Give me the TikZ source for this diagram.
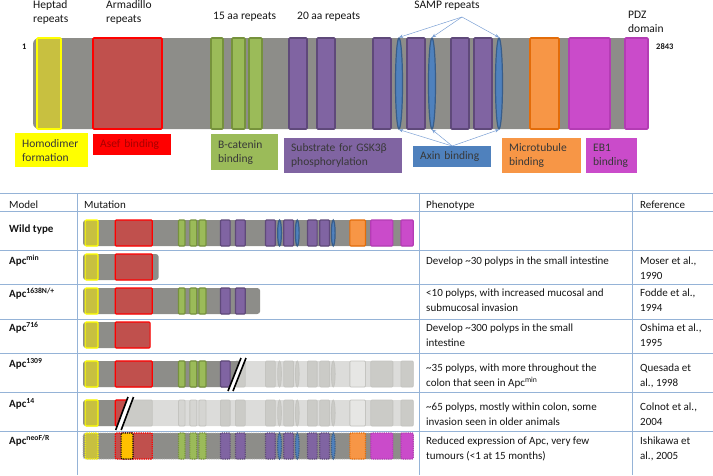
\documentclass[tikz,border=0pt]{standalone}
\usepackage{fontspec}
\setmainfont{Carlito}
\usetikzlibrary{arrows.meta,positioning,shapes.geometric}
\definecolor{barfill}{HTML}{8D8D89}
\definecolor{hepfill}{HTML}{C8C040}
\definecolor{hepline}{HTML}{FFFF00}
\definecolor{armfill}{HTML}{C0504D}
\definecolor{armline}{HTML}{FF0000}
\definecolor{catfill}{HTML}{9BBB59}
\definecolor{catline}{HTML}{76923C}
\definecolor{gskfill}{HTML}{8064A2}
\definecolor{gskline}{HTML}{5F497A}
\definecolor{axnfill}{HTML}{4F81BD}
\definecolor{axnline}{HTML}{385D8A}
\definecolor{mtbfill}{HTML}{F79646}
\definecolor{mtbline}{HTML}{E36C09}
\definecolor{ebfill}{HTML}{CA4BCA}
\definecolor{ebline}{HTML}{B43CB4}
\definecolor{gridblue}{HTML}{95B3D7}
\definecolor{fadebar}{HTML}{DCDCDA}
\definecolor{fadebox}{HTML}{CBCBC7}
\definecolor{fadeline}{HTML}{C4C4C0}
\definecolor{fademtb}{HTML}{E6E6E4}
\definecolor{neogold}{HTML}{FFC000}
\definecolor{ink}{HTML}{141414}
\definecolor{lbltext}{HTML}{383838}
\definecolor{asef}{HTML}{A80000}
\definecolor{ptrblue}{HTML}{7BA0D4}
\tikzset{dom/.style={line width=1.2pt,rounded corners=1pt},bar/.style={fill=barfill,rounded corners=3pt},
hep/.style={dom,fill=hepfill,draw=hepline},arm/.style={dom,fill=armfill,draw=armline},cat/.style={dom,fill=catfill,draw=catline},
gsk/.style={dom,fill=gskfill,draw=gskline},axn/.style={dom,fill=axnfill,draw=axnline},mtb/.style={dom,fill=mtbfill,draw=mtbline},
eb/.style={dom,fill=ebfill,draw=ebline},gold/.style={dom,fill=neogold,draw=black},
fade/.style={dom,fill=fadebox,draw=fadeline,line width=0.8pt},
faded/.style={bar/.style={fill=fadebar,rounded corners=3pt},hep/.style={fade},arm/.style={fade},cat/.style={fade,fill=fadebar!60!fadebox},gsk/.style={fade},axn/.style={fade},mtb/.style={fade,fill=fademtb},eb/.style={fade}},
dashy/.style={dom/.append style={densely dotted},bar/.append style={draw=gray!60,densely dotted,line width=0.8pt}},
row/.style={shift={(65.28,#1-10.86)},xscale=0.537,yscale=0.2857},
sampnode/.style={ellipse,draw=axnline,fill=axnfill,line width=1.2pt,minimum width=7,minimum height=91,inner sep=0pt},
pointer/.style={-{Stealth[length=4pt,width=3.5pt]},draw=ptrblue,line width=0.5pt},
grid/.style={draw=gridblue,line width=0.8pt},gap/.style={fill=white},cut/.style={draw=black,line width=1.6pt}}
\newcommand\apcfull{%
\path[bar] (33,38) rectangle (648,129);
\path[hep] (37,38) rectangle (61,129);
\path[arm] (93,38) rectangle (162,129);
\foreach \a/\b in {211/223,232/245,249/262} {\path[cat] (\a,38) rectangle (\b,129);}
\foreach \a/\b in {289/307,317/335,373/391,407/425,451/469,474/492} {\path[gsk] (\a,38) rectangle (\b,129);}
\foreach \c in {399,432,499} {\path[axn] (\c,83.5) ellipse [x radius=3.5,y radius=45.5];}
\path[mtb] (530,38) rectangle (559,129);
\foreach \a/\b in {569/610,625/648} {\path[eb] (\a,38) rectangle (\b,129);}}

\begin{document}
\begin{tikzpicture}[x=1pt,y=-1pt,font=\fontsize{11.5}{14}\selectfont,
head/.style={anchor=west,align=left,inner sep=0pt,text=ink},
lbl/.style={anchor=north west,align=left,inner xsep=7pt,inner ysep=0pt,text=lbltext},
cell/.style={anchor=base west,align=left,inner sep=0pt,text=ink,font=\fontsize{11}{15}\selectfont},
model/.style={cell,font=\fontsize{11}{15}\selectfont\bfseries}]
\useasboundingbox (0,0) rectangle (713,475);
% protein map
\begin{scope}[dom/.append style={line width=1.6pt}]
\path[bar,rounded corners=6pt] (33,38) rectangle (648,129);
\path[hep] (37,38) rectangle (61,129);
\path[arm] (93,38) rectangle (162,129);
\foreach \a/\b in {211/223,232/245,249/262} {\path[cat] (\a,38) rectangle (\b,129);}
\foreach \a/\b in {289/307,317/335,373/391,407/425,451/469,474/492} {\path[gsk] (\a,38) rectangle (\b,129);}
\foreach \c [count=\i] in {399,432,499} {\node[sampnode] (samp\i) at (\c,83.5) {};}
\path[mtb] (530,38) rectangle (559,129);
\foreach \a/\b in {569/610,625/648} {\path[eb] (\a,38) rectangle (\b,129);}
\end{scope}
\node[head] (heptad) at (33,12) {Heptad\\repeats};
\node[head] (armadillo) at (106,12) {Armadillo\\repeats};
\node[head] (aa15) at (213,17) {15 aa repeats};
\node[head] (aa20) at (297,17) {20 aa repeats};
\node[head,anchor=center] (samplbl) at (447,6) {SAMP repeats};
\node[head] (pdz) at (628,22) {PDZ\\domain};
\node[head,font=\fontsize{8.5}{10}\selectfont\bfseries] (first) at (22,47) {1};
\node[head,font=\fontsize{8.5}{10}\selectfont\bfseries] (last) at (656,47) {2843};
% functions
\node[lbl,fill=hepline,minimum height=34,text width=59] (homo) at (15,133) {Homodimer\\formation};
\node[lbl,fill=armline,text=asef,minimum height=21,text width=64] (asefb) at (93,134) {Asef binding};
\node[lbl,fill=catfill,minimum height=36,text width=53] (bcat) at (211,134) {B-catenin\\binding};
\node[lbl,fill=gskfill,minimum height=35,text width=104] (gsk3) at (284,138) {Substrate for GSK3β\\phosphorylation};
\node[lbl,fill=axnfill,minimum height=21,text width=64] (axin) at (413,146) {Axin binding};
\node[lbl,fill=mtbfill,minimum height=35,text width=65] (mtub) at (502,138) {Microtubule\\binding};
\node[lbl,fill=ebfill,minimum height=35,text width=37] (eb1) at (586,138) {EB1\\binding};
\coordinate (sampfoot) at (462,17);
\foreach \i in {1,2,3} {\draw[pointer] (sampfoot) -- (samp\i.north); \draw[pointer] (axin.north) -- (samp\i.south);}
% table
\foreach \y in {193,211,250,284,319,353,392,431} {\draw[grid] (0,\y) -- (713,\y);}
\foreach \x in {77,419,632} {\draw[grid] (\x,193) -- (\x,475);}
\node[cell] (hmodel) at (9,208) {Model};
\node[cell] (hmut) at (84,208) {Mutation};
\node[cell] (hpheno) at (426,208) {Phenotype};
\node[cell] (href) at (640,208) {Reference};
\node[model] (wt) at (9,232) {Wild type};
\node[model] (amin) at (9,264) {Apc\textsuperscript{min}};
\node[model] (a1638) at (9,297) {Apc\textsuperscript{1638N/+}};
\node[model] (a716) at (9,331) {Apc\textsuperscript{716}};
\node[model] (a1309) at (9,367) {Apc\textsuperscript{1309}};
\node[model] (a14) at (9,407) {Apc\textsuperscript{14}};
\node[model] (aneo) at (9,444) {Apc\textsuperscript{neoF/R}};
\node[cell] (pmin) at (426,264) {Develop \textasciitilde30 polyps in the small intestine};
\node[cell] (p1638) at (426,311) {<10 polyps, with increased mucosal and\\submucosal invasion};
\node[cell] (p716) at (426,346) {Develop \textasciitilde300 polyps in the small\\intestine};
\node[cell] (p1309) at (426,386) {\textasciitilde35 polyps, with more throughout the\\colon that seen in Apc\textsuperscript{min}};
\node[cell] (p14) at (426,425) {\textasciitilde65 polyps, mostly within colon, some\\invasion seen in older animals};
\node[cell] (pneo) at (426,459) {Reduced expression of Apc, very few\\tumours (<1 at 15 months)};
\node[cell] (rmin) at (640,279) {Moser et al.,\\1990};
\node[cell] (r1638) at (640,311) {Fodde et al.,\\1994};
\node[cell] (r716) at (640,346) {Oshima et al.,\\1995};
\node[cell] (r1309) at (640,386) {Quesada et\\al., 1998};
\node[cell] (r14) at (640,425) {Colnot et al.,\\2004};
\node[cell] (rneo) at (640,459) {Ishikawa et\\al., 2005};
% mutations
\begin{scope}[row=220] \apcfull \end{scope}
\begin{scope}[row=254]
\path[bar] (33,38) rectangle (174,129); \path[hep] (37,38) rectangle (61,129); \path[arm] (93,38) rectangle (162,129);
\end{scope}
\begin{scope}[row=288]
\path[bar] (33,38) rectangle (363,129); \path[hep] (37,38) rectangle (61,129); \path[arm] (93,38) rectangle (162,129);
\foreach \a/\b in {211/223,232/245,249/262} {\path[cat] (\a,38) rectangle (\b,129);}
\foreach \a/\b in {289/307,317/335} {\path[gsk] (\a,38) rectangle (\b,129);}
\end{scope}
\begin{scope}[row=322]
\path[bar] (33,38) rectangle (158,129); \path[hep] (37,38) rectangle (61,129); \path[arm] (93,38) rectangle (158,129);
\end{scope}
\begin{scope}[row=361,faded] \apcfull \end{scope}
\begin{scope}
\clip (70,353) -- (243,353) -- (227.6,392) -- (70,392) -- cycle;
\begin{scope}[row=361]
\path[bar] (33,38) rectangle (360,129); \path[hep] (37,38) rectangle (61,129); \path[arm] (93,38) rectangle (162,129);
\foreach \a/\b in {211/223,232/245,249/262} {\path[cat] (\a,38) rectangle (\b,129);}
\path[gsk] (289,38) rectangle (307,129);
\end{scope}
\end{scope}
\path[gap] (228,391) -- (241,358) -- (246,358) -- (233,391) -- cycle;
\draw[cut] (228,391) -- (241,358) (233,391) -- (246,358);
\begin{scope}[row=400,faded] \apcfull \end{scope}
\begin{scope}
\clip (70,392) -- (129.9,392) -- (115.3,431) -- (70,431) -- cycle;
\begin{scope}[row=400]
\path[bar] (33,38) rectangle (200,129); \path[hep] (37,38) rectangle (61,129); \path[arm] (93,38) rectangle (162,129);
\end{scope}
\end{scope}
\path[gap] (115.7,430) -- (128,397) -- (133.5,397) -- (121.2,430) -- cycle;
\draw[cut] (115.7,430) -- (128,397) (121.2,430) -- (133.5,397);
\begin{scope}[row=433,dashy] \apcfull \path[gold] (104,38) rectangle (126,129); \end{scope}
\end{tikzpicture}
\end{document}
